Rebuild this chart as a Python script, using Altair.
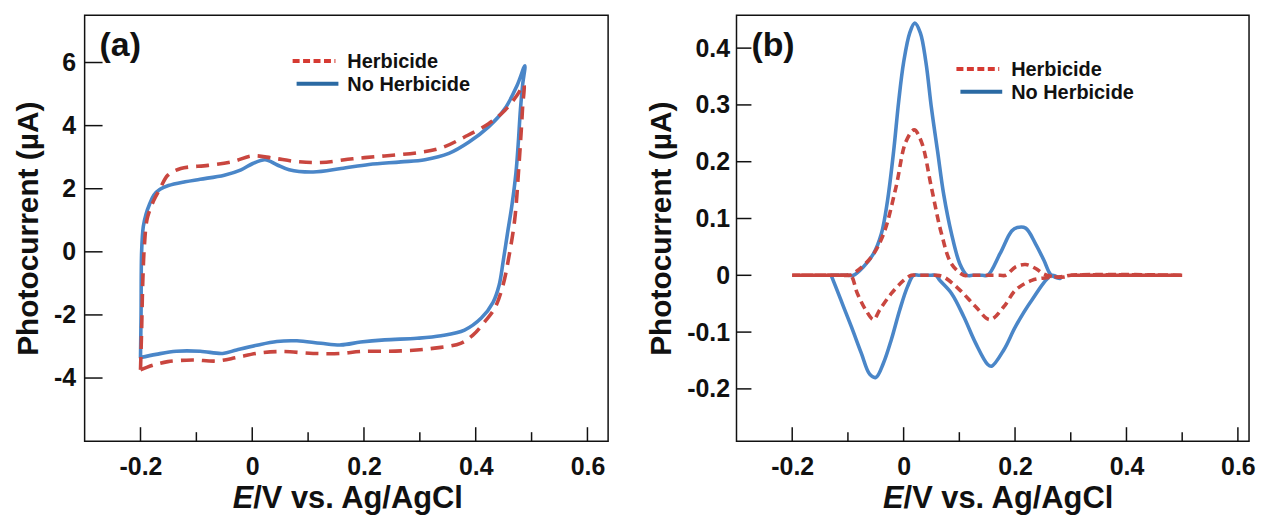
import altair as alt
import pandas as pd

# ---------------- Panel (a): cyclic voltammograms ----------------
a_blue_E = [-0.200, -0.199, -0.198, -0.195, -0.190, -0.184, -0.176, -0.165, -0.150, -0.120, -0.093,
            -0.050, -0.020, 0.001, 0.023, 0.044, 0.066, 0.109, 0.159, 0.209, 0.266, 0.309, 0.352,
            0.388, 0.423, 0.452, 0.474, 0.488, 0.484, 0.480, 0.476, 0.472, 0.465, 0.457, 0.449,
            0.442, 0.431, 0.410, 0.380, 0.338, 0.295, 0.237, 0.194, 0.159, 0.123, 0.080, 0.044,
            0.008, -0.028, -0.053, -0.093, -0.136, -0.172, -0.200]
a_blue_I = [-3.35, -2.00, 0.00, 0.80, 1.20, 1.50, 1.80, 1.98, 2.10, 2.22, 2.30,
            2.43, 2.60, 2.80, 2.92, 2.76, 2.60, 2.53, 2.64, 2.77, 2.85, 2.92, 3.12,
            3.48, 3.96, 4.53, 5.27, 5.90, 5.30, 4.50, 3.40, 2.50, 1.50, 0.60, -0.32,
            -1.05, -1.60, -2.10, -2.48, -2.66, -2.74, -2.79, -2.86, -2.95, -2.90, -2.82, -2.84,
            -2.96, -3.11, -3.22, -3.15, -3.15, -3.25, -3.35]

a_red_E = [-0.200, -0.198, -0.196, -0.193, -0.188, -0.177, -0.165, -0.151, -0.128, -0.079, -0.035,
           0.001, 0.037, 0.080, 0.123, 0.180, 0.237, 0.295, 0.338, 0.380, 0.423, 0.452, 0.474,
           0.486, 0.484, 0.481, 0.477, 0.470, 0.460, 0.449, 0.434, 0.416, 0.395, 0.373, 0.323,
           0.266, 0.194, 0.159, 0.109, 0.051, 0.008, -0.028, -0.064, -0.107, -0.151, -0.177, -0.200]
a_red_I = [-3.74, -2.50, -1.00, 0.20, 1.05, 1.60, 2.00, 2.43, 2.64, 2.74, 2.86,
           3.04, 2.97, 2.86, 2.83, 2.95, 3.04, 3.14, 3.29, 3.64, 4.06, 4.48, 4.96,
           5.30, 4.60, 3.70, 2.64, 1.05, -0.10, -1.05, -1.79, -2.22, -2.64, -2.90, -3.06,
           -3.14, -3.16, -3.22, -3.22, -3.16, -3.22, -3.35, -3.46, -3.43, -3.48, -3.59, -3.74]

# ---------------- Panel (b): differential photocurrent ----------------
b_blue_E = [-0.130, -0.100, -0.090, -0.072, -0.054, -0.040, -0.029, -0.018, -0.009, 0.000, 0.011,
            0.020, 0.030, 0.040, 0.050, 0.061, 0.072, 0.086, 0.101, 0.114, 0.124, 0.141, 0.151,
            0.173, 0.194, 0.204, 0.219, 0.237, 0.252, 0.265, 0.281, 0.266, 0.230, 0.201, 0.180,
            0.158, 0.151, 0.129, 0.108, 0.086, 0.065, 0.058, 0.048, 0.028, 0.018, 0.007, -0.007,
            -0.022, -0.036, -0.050, -0.061, -0.076, -0.094, -0.108, -0.122, -0.130]
b_blue_I = [0.000, 0.000, 0.000, 0.015, 0.038, 0.073, 0.131, 0.218, 0.305, 0.375, 0.427,
            0.444, 0.427, 0.375, 0.294, 0.218, 0.142, 0.073, 0.020, 0.000, 0.000, 0.000, 0.000,
            0.038, 0.078, 0.084, 0.083, 0.055, 0.026, 0.000, -0.006, 0.000, -0.044, -0.090, -0.131,
            -0.160, -0.157, -0.119, -0.073, -0.032, -0.009, 0.000, 0.000, 0.000, 0.000, -0.020, -0.061,
            -0.113, -0.154, -0.180, -0.174, -0.137, -0.090, -0.055, -0.020, 0.000]

b_red_E = [-0.200, -0.150, -0.110, -0.097, -0.086, -0.058, -0.036, -0.014, 0.004, 0.019, 0.032,
           0.050, 0.068, 0.086, 0.108, 0.118, 0.173, 0.183, 0.201, 0.219, 0.237, 0.252, 0.273,
           0.288, 0.300, 0.500, 0.300, 0.288, 0.260, 0.230, 0.201, 0.180, 0.155, 0.129, 0.101,
           0.072, 0.058, 0.048, 0.024, 0.014, 0.000, -0.022, -0.043, -0.054, -0.068, -0.083,
           -0.095, -0.105, -0.150, -0.200]
b_red_I = [0.000, 0.000, 0.000, 0.000, 0.006, 0.032, 0.073, 0.154, 0.235, 0.256, 0.235,
           0.154, 0.073, 0.020, 0.000, 0.000, 0.000, 0.000, 0.015, 0.019, 0.012, 0.002, -0.003,
           -0.003, 0.000, 0.000, 0.000, -0.002, -0.004, -0.009, -0.026, -0.055, -0.078, -0.055, -0.026,
           -0.003, 0.000, 0.000, 0.000, 0.000, -0.009, -0.032, -0.061, -0.078, -0.061, -0.032,
           0.000, 0.000, 0.000, 0.000]
# flat baseline stretches of the Herbicide trace (where both scans overlap)
b_red_base_E = [-0.200, -0.097, 0.300, 0.500]
b_red_base_I = [0.000, 0.000, 0.000, 0.000]
b_red_base_seg = [0, 0, 1, 1]

# tick positions and labels
a_x_major = [-0.2, 0.0, 0.2, 0.4, 0.6]
a_x_minor = [-0.1, 0.1, 0.3, 0.5]
a_y_major = [6, 4, 2, 0, -2, -4]
b_y_major = [0.4, 0.3, 0.2, 0.1, 0.0, -0.1, -0.2]

series_names = ["Herbicide", "No Herbicide"]

FONT = "Liberation Sans"
BLUE = "#4a86c8"
RED = "#c9463f"
LEG_BLUE = "#2b6aa3"
LEG_RED = "#d63a32"


def df_curve(E, I):
    return pd.DataFrame({"E": E, "I": I, "idx": list(range(len(E)))})


def panel(W, H, xdom, ydom, blue, red, ymajor, dash, letter, leg, ytick_len,
          title_shift, y_label_pad, base=None):
    xs = alt.Scale(domain=xdom, nice=False, zero=False)
    ys = alt.Scale(domain=ydom, nice=False, zero=False)
    xaxis = alt.Axis(values=a_x_major, format=".1~f",
                     labelExpr="replace(datum.label, '\u2212', '-')",
                     labelPadding=14, title=None)
    yaxis = alt.Axis(values=ymajor, format=".1~f",
                     labelExpr="replace(datum.label, '\u2212', '-')",
                     labelPadding=y_label_pad, title="Photocurrent (\u00b5A)",
                     titlePadding=10)
    X = alt.X("E:Q", scale=xs, axis=xaxis)
    Y = alt.Y("I:Q", scale=ys, axis=yaxis)

    layers = []
    layers.append(alt.Chart(df_curve(*blue)).mark_line(
        color=BLUE, strokeWidth=3.6, strokeCap="round", strokeJoin="round",
        interpolate="catmull-rom"
    ).encode(x=X, y=Y, order="idx:Q"))
    layers.append(alt.Chart(df_curve(*red)).mark_line(
        color=RED, strokeWidth=3.6, strokeDash=dash, strokeJoin="round",
        interpolate="catmull-rom"
    ).encode(x=X, y=Y, order="idx:Q"))
    if base is not None:
        bdf = pd.DataFrame({"E": base[0], "I": base[1], "seg": base[2]})
        layers.append(alt.Chart(bdf).mark_line(color=RED, strokeWidth=3.6).encode(
            x=X, y=Y, detail="seg:N"))

    # inward ticks
    layers.append(alt.Chart(pd.DataFrame({"E": a_x_major})).mark_rule(color="#111", strokeWidth=1.5).encode(
        x=X, y=alt.value(H), y2=alt.value(H - 14)))
    layers.append(alt.Chart(pd.DataFrame({"E": a_x_minor})).mark_rule(color="#111", strokeWidth=1.5).encode(
        x=X, y=alt.value(H), y2=alt.value(H - 9)))
    layers.append(alt.Chart(pd.DataFrame({"I": ymajor})).mark_rule(color="#111", strokeWidth=1.5).encode(
        y=Y, x=alt.value(0), x2=alt.value(ytick_len)))

    one = pd.DataFrame({"k": [0]})
    layers.append(alt.Chart(one).mark_text(font=FONT, fontWeight="bold", fontSize=34, align="left",
                                           baseline="alphabetic", color="#111").encode(
        x=alt.value(15), y=alt.value(41), text=alt.value(letter)))

    lx, ly = leg
    layers.append(alt.Chart(one).mark_rule(color=LEG_RED, strokeWidth=4, strokeDash=[7, 3.5]).encode(
        x=alt.value(lx), x2=alt.value(lx + 43), y=alt.value(ly)))
    layers.append(alt.Chart(one).mark_rule(color=LEG_BLUE, strokeWidth=4).encode(
        x=alt.value(lx + 4), x2=alt.value(lx + 46), y=alt.value(ly + 23)))
    layers.append(alt.Chart(one).mark_text(font=FONT, fontWeight="bold", fontSize=20, align="left",
                                           baseline="middle", color="#111").encode(
        x=alt.value(lx + 55), y=alt.value(ly + 1), text=alt.value(series_names[0])))
    layers.append(alt.Chart(one).mark_text(font=FONT, fontWeight="bold", fontSize=20, align="left",
                                           baseline="middle", color="#111").encode(
        x=alt.value(lx + 55), y=alt.value(ly + 24), text=alt.value(series_names[1])))

    # x-axis title: italic E + rest
    fs = 31
    wE = 0.667 * fs
    wR = 6.835 * fs
    start = W / 2 + title_shift - (wE + wR) / 2
    layers.append(alt.Chart(one).mark_text(font=FONT, fontWeight="bold", fontStyle="italic", fontSize=fs,
                                           align="left", baseline="alphabetic", color="#111").encode(
        x=alt.value(start), y=alt.value(H + 67), text=alt.value("E")))
    layers.append(alt.Chart(one).mark_text(font=FONT, fontWeight="bold", fontSize=fs,
                                           align="left", baseline="alphabetic", color="#111").encode(
        x=alt.value(start + wE), y=alt.value(H + 67), text=alt.value("/V vs. Ag/AgCl")))

    return alt.layer(*layers).properties(width=W, height=H)


pa = panel(526, 428, [-0.3, 0.637], [-6.0, 7.5], (a_blue_E, a_blue_I), (a_red_E, a_red_I),
           a_y_major, [13, 8], "(a)", (209, 46), 18, 2, 9)
pb = panel(515, 428, [-0.3, 0.62], [-0.292, 0.458], (b_blue_E, b_blue_I), (b_red_E, b_red_I),
           b_y_major, [8, 5], "(b)", (221, 54), 15, 6, 7,
           base=(b_red_base_E, b_red_base_I, b_red_base_seg))

chart = alt.hconcat(pa, pb, spacing=37).properties(
    padding={"left": 5, "top": 5, "right": 0, "bottom": 0}
).configure_view(stroke="#111", strokeWidth=1.5).configure_axis(
    grid=False, domain=False, ticks=False, tickSize=0,
    labelFont=FONT, labelFontSize=25, labelFontWeight="bold", labelColor="#111",
    titleFont=FONT, titleFontSize=30, titleFontWeight="bold", titleColor="#111"
)

chart.save("out.html", embed_options={"renderer": "svg", "actions": False})
